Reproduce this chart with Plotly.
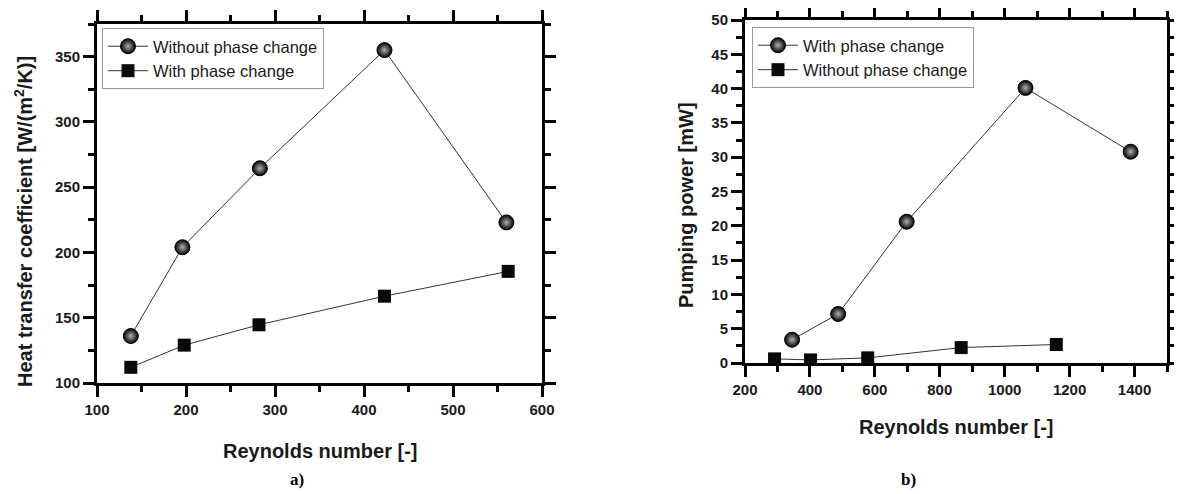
import plotly.graph_objects as go

# Panel a) Heat transfer coefficient
re_a_without = [138, 196, 283, 423, 560]
htc_without = [136, 204, 264.5, 355, 223]
re_a_with = [138, 198, 282, 423, 562]
htc_with = [112, 129, 144.6, 166.5, 185.5]

# Panel b) Pumping power
re_b_with = [345, 487, 698, 1064, 1388]
pp_with = [3.4, 7.15, 20.6, 40.1, 30.8]
re_b_without = [291, 402, 578, 866, 1159]
pp_without = [0.6, 0.45, 0.75, 2.25, 2.7]

OFF = 8  # default page body margin
W, H = 1182 - OFF, 494 - OFF


def px(x):
    return (x - OFF) / W


def py(y):
    return 1 - (y - OFF) / H


TXT = "#1a1a1a"
AX = dict(showline=True, linewidth=3, linecolor="black", mirror="allticks",
          ticks="outside", ticklen=11, tickwidth=3, tickcolor="black",
          showgrid=False, zeroline=False, automargin=False,
          tickfont=dict(family="Liberation Sans", size=15, color=TXT, weight="bold"))

fig = go.Figure()

sphere = dict(symbol="circle", size=15, color="#000000",
              line=dict(color="#000", width=1),
              gradient=dict(type="radial", color="#b0b0b0"))
square = dict(symbol="square", size=13, color="#0a0a0a", line=dict(width=0))
line = dict(color="#333", width=1)

fig.add_trace(go.Scatter(x=re_a_without, y=htc_without, mode="lines+markers",
                         name="Without phase change", marker=sphere, line=line,
                         xaxis="x", yaxis="y", legend="legend"))
fig.add_trace(go.Scatter(x=re_a_with, y=htc_with, mode="lines+markers",
                         name="With phase change", marker=square, line=line,
                         xaxis="x", yaxis="y", legend="legend"))
fig.add_trace(go.Scatter(x=re_b_with, y=pp_with, mode="lines+markers",
                         name="With phase change", marker=sphere, line=line,
                         xaxis="x2", yaxis="y2", legend="legend2"))
fig.add_trace(go.Scatter(x=re_b_without, y=pp_without, mode="lines+markers",
                         name="Without phase change", marker=square, line=line,
                         xaxis="x2", yaxis="y2", legend="legend2"))


def minor(d):
    return dict(dtick=d, ticks="outside", ticklen=6, tickwidth=3, tickcolor="black")


legfont = dict(family="Liberation Sans", size=16.5, color=TXT)
titlefont = dict(family="Liberation Sans", size=20, color=TXT, weight="bold")


def ann(text, x, y, angle=0, font=titlefont):
    return dict(text=text, x=px(x), y=py(y), xref="paper", yref="paper",
                xanchor="center", yanchor="middle", textangle=angle,
                showarrow=False, font=font)


serif = dict(family="Liberation Serif", size=17, color="black")
fig.update_layout(
    width=W, height=H, margin=dict(l=0, r=0, t=0, b=0, autoexpand=False),
    paper_bgcolor="white", plot_bgcolor="white", showlegend=True,
    xaxis=dict(AX, domain=[px(97), px(542)], range=[100, 600], dtick=100,
               minor=minor(50), anchor="y"),
    yaxis=dict(AX, domain=[py(383), py(24)], range=[100, 375], dtick=50,
               minor=minor(25), anchor="x"),
    xaxis2=dict(AX, domain=[px(745), px(1167)], range=[200, 1500], dtick=200,
                minor=minor(100), anchor="y2"),
    yaxis2=dict(AX, domain=[py(363), py(20)], range=[0, 50], dtick=5,
                minor=minor(2.5), anchor="x2"),
    legend=dict(x=px(102), y=py(28), xanchor="left", yanchor="top",
                bgcolor="white", bordercolor="#999", borderwidth=1,
                font=legfont, tracegroupgap=0, itemwidth=40),
    legend2=dict(x=px(752), y=py(27), xanchor="left", yanchor="top",
                 bgcolor="white", bordercolor="#999", borderwidth=1,
                 font=legfont, tracegroupgap=0, itemwidth=40),
    annotations=[
        ann("Reynolds number [-]", 320, 451),
        ann("Heat transfer coefficient [W/(m<sup>2</sup>/K)]", 23, 222, -90),
        ann("Reynolds number [-]", 956, 427),
        ann("Pumping power [mW]", 686, 205, -90),
        ann("<b>a)</b>", 297, 479, font=serif),
        ann("<b>b)</b>", 908, 479, font=serif),
    ],
)

fig.write_html("out.html")
